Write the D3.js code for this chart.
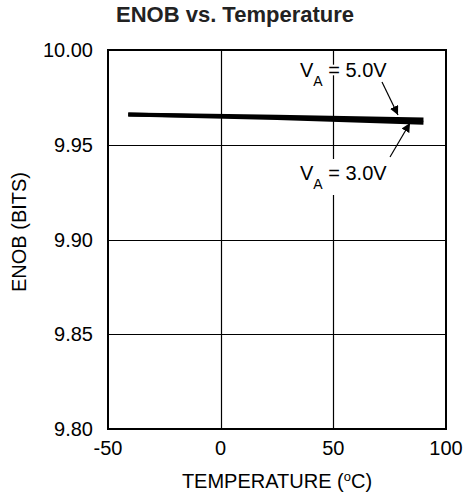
<!DOCTYPE html>
<html>
<head>
<meta charset="utf-8">
<script src="https://cdn.jsdelivr.net/npm/d3@7/dist/d3.min.js"></script>
<style>
	body { margin: 0; background: #fff; }
	svg { display: block; font-family: 'Liberation Sans', Arial, sans-serif; }
</style>
</head>
<body>
<div id="chart"></div>
<script>
// ENOB readings against temperature, one series per supply voltage.
var temperatures = [-41, 25, 90];
var enob50 = [9.966, 9.9648, 9.9633];
var enob30 = [9.966, 9.9641, 9.9616];
var xTicks = [-50, 0, 50, 100];
var yTicks = [9.80, 9.85, 9.90, 9.95, 10.00];

var width = 465;
var height = 499;
var margin = {top: 50, right: 19, bottom: 70, left: 108};
var w = width - margin.left - margin.right;
var h = height - margin.top - margin.bottom;

var svg = d3.select('#chart')
	.append('svg')
	.attr('width', width)
	.attr('height', height);

var x = d3.scaleLinear().domain([-50, 100]).range([0, w]);
var y = d3.scaleLinear().domain([9.80, 10.00]).range([h, 0]);

var g = svg.append('g')
	.attr('transform', 'translate(' + margin.left + ',' + margin.top + ')');

// Grid lines.
g.append('g')
	.selectAll('line')
	.data(xTicks.slice(1, -1))
	.enter()
	.append('line')
	.attr('x1', function(d) { return Math.round(x(d)) + 0.5; })
	.attr('x2', function(d) { return Math.round(x(d)) + 0.5; })
	.attr('y1', 0)
	.attr('y2', h)
	.attr('stroke', '#000')
	.attr('stroke-width', 1.2);
g.append('g')
	.selectAll('line')
	.data(yTicks.slice(1, -1))
	.enter()
	.append('line')
	.attr('x1', 0)
	.attr('x2', w)
	.attr('y1', function(d) { return Math.round(y(d)) + 0.5; })
	.attr('y2', function(d) { return Math.round(y(d)) + 0.5; })
	.attr('stroke', '#000')
	.attr('stroke-width', 1.2);

// Frame.
g.append('rect')
	.attr('width', w)
	.attr('height', h)
	.attr('fill', 'none')
	.attr('stroke', '#000')
	.attr('stroke-width', 2);

// Tick labels.
svg.append('g')
	.selectAll('text')
	.data(xTicks)
	.enter()
	.append('text')
	.attr('x', function(d) { return margin.left + x(d); })
	.attr('y', margin.top + h + 26)
	.attr('text-anchor', 'middle')
	.attr('font-size', 20)
	.text(function(d) { return d; });
svg.append('g')
	.selectAll('text')
	.data(yTicks)
	.enter()
	.append('text')
	.attr('x', margin.left - 15)
	.attr('y', function(d) { return margin.top + y(d) + 7; })
	.attr('text-anchor', 'end')
	.attr('font-size', 20)
	.text(function(d) { return d3.format('.2f')(d); });

// Axis titles.
var xTitle = svg.append('text')
	.attr('x', margin.left + w / 2)
	.attr('y', 488)
	.attr('text-anchor', 'middle')
	.attr('font-size', 20)
	.text('TEMPERATURE (');
xTitle.append('tspan').attr('font-size', 13).attr('dy', -7).text('o');
xTitle.append('tspan').attr('dy', 7).text('C)');
svg.append('text')
	.attr('transform', 'translate(26,' + 232 + ') rotate(-90)')
	.attr('text-anchor', 'middle')
	.attr('font-size', 20)
	.attr('fill', '#000')
	.text('ENOB (BITS)');

svg.append('text')
	.attr('x', 235)
	.attr('y', 22)
	.attr('text-anchor', 'middle')
	.attr('font-size', 22)
	.attr('font-weight', 'bold')
	.attr('fill', '#222')
	.text('ENOB vs. Temperature');

// Data lines.
var line = d3.line()
	.x(function(d, i) { return x(temperatures[i]); })
	.y(function(d) { return y(d); });
[enob30, enob50].forEach(function(series) {
	g.append('path')
		.datum(series)
		.attr('d', line)
		.attr('fill', 'none')
		.attr('stroke', '#000')
		.attr('stroke-width', 4);
});

// Annotations with arrows.
svg.append('defs').append('marker')
	.attr('id', 'head')
	.attr('viewBox', '0 0 10 10')
	.attr('refX', 10)
	.attr('refY', 5)
	.attr('markerWidth', 9)
	.attr('markerHeight', 9)
	.attr('markerUnits', 'userSpaceOnUse')
	.attr('orient', 'auto')
	.append('path')
	.attr('d', 'M0,0L10,5L0,10z')
	.attr('fill', '#000');

// The top label only hides the grid line under its glyphs (white halo),
// the lower one sits on a white box.
var addLabel = function(text, tx, ty, pad) {
	var t = svg.append('text')
		.attr('x', tx)
		.attr('y', ty)
		.attr('font-size', 20);
	t.append('tspan').text('V');
	t.append('tspan').attr('font-size', 14).attr('dy', 9).text('A');
	t.append('tspan').attr('dy', -9).text(' = ' + text);
	if (pad === null) {
		t.attr('stroke', '#fff')
			.attr('stroke-width', 4)
			.attr('paint-order', 'stroke');
		return;
	}
	var box = t.node().getBBox();
	svg.insert('rect', function() { return t.node(); })
		.attr('x', box.x - pad)
		.attr('y', box.y - pad)
		.attr('width', box.width + 2 * pad)
		.attr('height', box.height + 2 * pad)
		.attr('fill', '#fff');
};
addLabel('5.0V', 300, 77, null);
addLabel('3.0V', 300, 180, 3);

var arrow = function(x1, y1, x2, y2) {
	svg.append('line')
		.attr('x1', x1).attr('y1', y1)
		.attr('x2', x2).attr('y2', y2)
		.attr('stroke', '#000')
		.attr('stroke-width', 1.2)
		.attr('marker-end', 'url(#head)');
};
arrow(382, 82, 398, 115);
arrow(390, 157, 410, 123);
</script>
</body>
</html>
